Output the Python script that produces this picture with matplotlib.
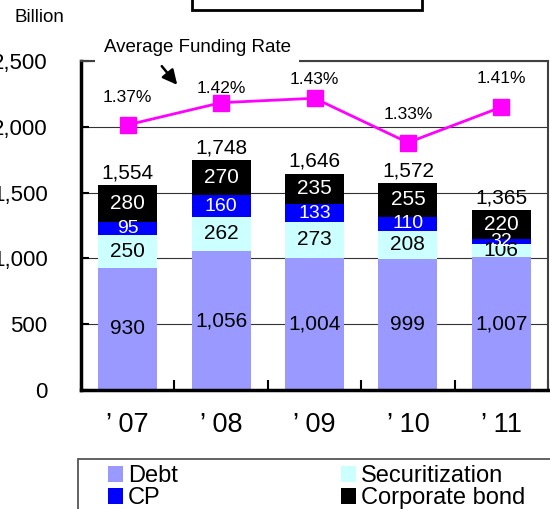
import matplotlib
matplotlib.use("Agg")
import matplotlib.pyplot as plt
from matplotlib.patches import Rectangle
import numpy as np

# ---- data ----
categories = ["’ 07", "’ 08", "’ 09", "’ 10", "’ 11"]
debt = [930, 1056, 1004, 999, 1007]
securitization = [250, 262, 273, 208, 106]
cp = [95, 160, 133, 110, 32]
corp_bond = [280, 270, 235, 255, 220]
totals = [1554, 1748, 1646, 1572, 1365]
rates = [1.37, 1.42, 1.43, 1.33, 1.41]
y_ticks = [0, 500, 1000, 1500, 2000, 2500]

plt.rcParams['font.family'] = ['Liberation Sans', 'DejaVu Sans']

W, H = 550, 509
fig = plt.figure(figsize=(W / 100, H / 100), dpi=100)
ax = fig.add_axes([81 / W, 1 - 390 / H, (548 - 81) / W, (390 - 61) / H])

x = np.arange(len(categories))
bw = 0.63
series = [
    ("Debt", debt, "#9999FF", "black", 15),
    ("Securitization", securitization, "#CCFFFF", "black", 15),
    ("CP", cp, "#0000FF", "white", 14),
    ("Corporate bond", corp_bond, "#000000", "white", 15),
]
bottom = np.zeros(len(categories))
handles = []
for name, vals, col, tcol, fs in series:
    vals = np.array(vals, dtype=float)
    b = ax.bar(x, vals, bw, bottom=bottom, color=col, label=name, zorder=2)
    handles.append(b)
    for xi, v, b0 in zip(x, vals, bottom):
        ax.text(xi, b0 + v / 2, f"{int(v):,}", ha='center', va='center',
                color=tcol, fontsize=fs, zorder=4)
    bottom += vals

for xi, t, top in zip(x, totals, bottom):
    ax.annotate(f"{t:,}", (xi, top), xytext=(0, 2), textcoords='offset points',
                ha='center', va='bottom', fontsize=15, zorder=4)

ax.set_xlim(-0.5, len(categories) - 0.5)
ax.set_ylim(0, 2500)
ax.set_yticks(y_ticks)
ax.set_yticklabels([f"{v:,}" for v in y_ticks], fontsize=16)
ax.yaxis.grid(True, color='#333333', linewidth=0.8, zorder=0)
ax.set_axisbelow(True)
ax.tick_params(axis='y', direction='in', length=6, width=1.5, pad=24)

ax.set_xticks(x)
ax.set_xticklabels(categories, fontsize=19.5)
ax.tick_params(axis='x', which='major', length=0, pad=16)
ax.set_xticks(np.arange(len(categories) + 1) - 0.5, minor=True)
ax.tick_params(axis='x', which='minor', direction='in', length=7, width=1.5)

ax.spines['left'].set_linewidth(2.5)
ax.spines['bottom'].set_linewidth(2.5)
ax.spines['top'].set_color('#404040')
ax.spines['top'].set_linewidth(1.5)
ax.spines['right'].set_color('#404040')
ax.spines['right'].set_linewidth(1.5)

# secondary axis for the rate line
ax2 = ax.twinx()
ax2.set_ylim(0.772, 1.514)
ax2.plot(x, rates, color='#FF00FF', lw=2, marker='s', markersize=11,
         zorder=5)
ax2.set_yticks([])
for s in ax2.spines.values():
    s.set_visible(False)
rate_offsets = [27, 14, 19, 28, 29]
for xi, r, off in zip(x, rates, rate_offsets):
    ax2.annotate(f"{r:.2f}%", (xi, r), xytext=(0, off * 0.72),
                 textcoords='offset points', ha='center', va='center',
                 fontsize=12.5)

# annotation text + arrow
fig.text(197 / W, 1 - 47 / H, "Average Funding Rate", ha='center', va='center',
         fontsize=13.5, bbox=dict(facecolor='white', edgecolor='none', pad=6),
         zorder=10)
fig.add_artist(matplotlib.patches.FancyArrowPatch(
    (160 / W, 1 - 64 / H), (179 / W, 1 - 87 / H), transform=fig.transFigure,
    arrowstyle='-|>', mutation_scale=22, color='black', lw=1.8))

fig.text(15 / W, 1 - 17 / H, "Billion", ha='left', va='center', fontsize=13.5)

# title box (cropped)
fig.add_artist(Rectangle((192 / W, 1 - 10 / H), 230 / W, 0.2,
                         transform=fig.transFigure, facecolor='white',
                         edgecolor='black', lw=2))

# legend frame + legend
fig.add_artist(Rectangle((78 / W, 1 - 530 / H), 500 / W, 71 / H,
                         transform=fig.transFigure, facecolor='white',
                         edgecolor='#555555', lw=1.3))
leg_handles = [handles[0], handles[2], handles[1], handles[3]]
leg_labels = ["Debt", "CP", "Securitization", "Corporate bond"]
fig.legend(leg_handles, leg_labels, ncol=2, loc='upper left',
           bbox_to_anchor=(108 / W, 1 - 465 / H), frameon=False,
           fontsize=17, handlelength=0.65, handleheight=0.65,
           handletextpad=0.2, columnspacing=6.9, labelspacing=0.0,
           borderpad=0, borderaxespad=0)

fig.savefig("out.png", dpi=100)
